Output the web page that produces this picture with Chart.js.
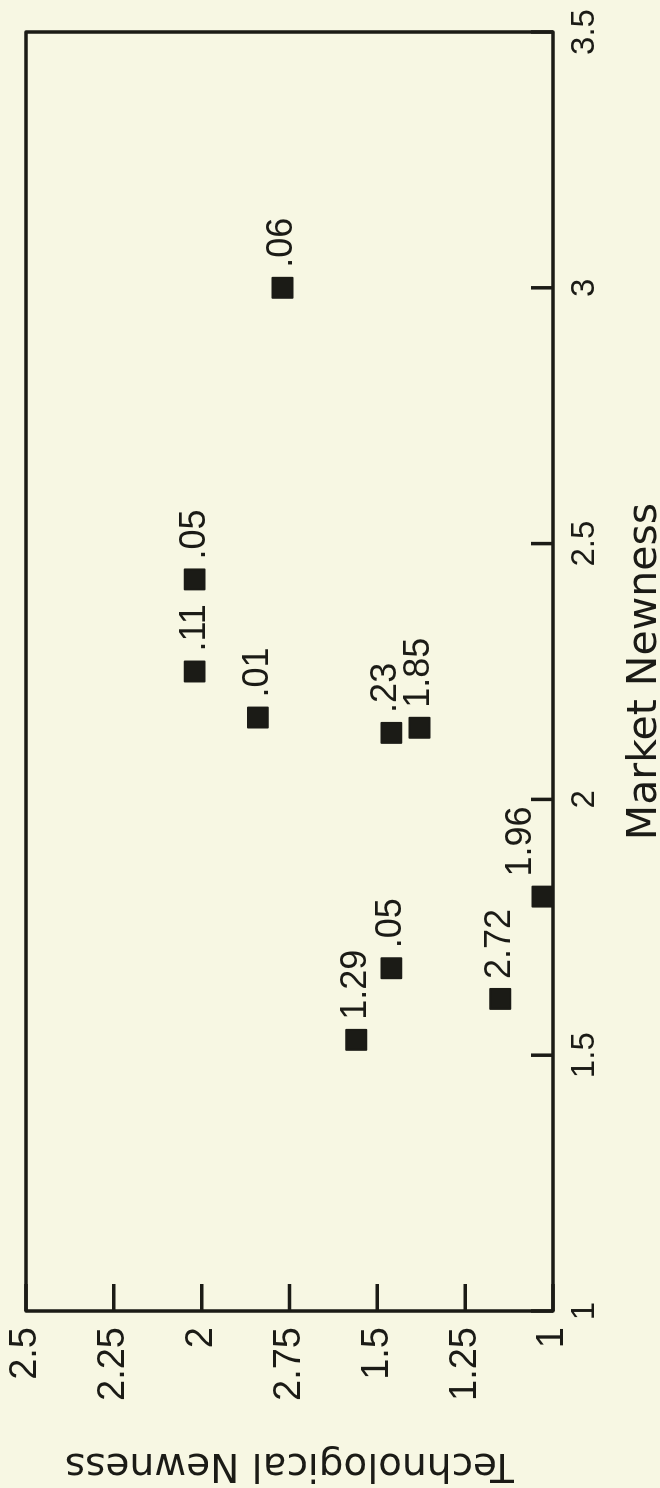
<!DOCTYPE html>
<html><head><meta charset="utf-8">
<script src="https://cdn.jsdelivr.net/npm/chart.js@4"></script>
<style>
html,body{margin:0;padding:0;background:#f7f7e3;overflow:hidden;width:660px;height:1488px;}
#wrap{position:absolute;left:0;top:0;width:1488px;height:660px;transform-origin:0 0;transform:translate(0,1488px) rotate(-90deg);}
</style></head><body>
<div id="wrap"><canvas id="c"></canvas></div>
<script>
// Data
const marketNewness = [3.0, 2.43, 2.25, 2.16, 2.13, 2.14, 1.53, 1.67, 1.61, 1.81];
const techNewness   = [1.77, 2.02, 2.02, 1.84, 1.46, 1.38, 1.56, 1.46, 1.15, 1.03];
const pointLabels   = ['.06', '.05', '.11', '.01', '.23', '1.85', '1.29', '.05', '2.72', '1.96'];
const marketTicks   = ['1', '1.5', '2', '2.5', '3', '3.5'];
const techTicks     = ['1', '1.25', '1.5', '2.75', '2', '2.25', '2.5'];

const INK = '#1b1b16';
const labelShift = [0, 0, 0, 0, -5, 0, 0, 0, 0, -21];

const framePlugin = {
  id: 'frame',
  beforeDatasetsDraw(chart) {
    const {ctx, chartArea: a, scales} = chart;
    ctx.save();
    ctx.strokeStyle = INK;
    ctx.lineWidth = 3.5;
    ctx.lineJoin = 'round';
    ctx.strokeRect(a.left, a.top, a.right - a.left, a.bottom - a.top);
    ctx.beginPath();
    scales.x.ticks.forEach(t => {
      const px = scales.x.getPixelForValue(t.value);
      ctx.moveTo(px, a.bottom); ctx.lineTo(px, a.bottom - 22);
    });
    scales.y.ticks.forEach(t => {
      const py = scales.y.getPixelForValue(t.value);
      ctx.moveTo(a.left, py); ctx.lineTo(a.left + 27, py);
    });
    ctx.stroke();
    ctx.restore();
    ctx.lineJoin = 'round';
  },
  afterDatasetsDraw(chart) {
    const {ctx} = chart;
    const meta = chart.getDatasetMeta(0);
    ctx.save();
    ctx.fillStyle = INK;
    ctx.font = '36px "Liberation Sans", Arial, sans-serif';
    ctx.textAlign = 'left';
    ctx.textBaseline = 'middle';
    meta.data.forEach((el, i) => {
      ctx.fillText(pointLabels[i], el.x + 20, el.y + labelShift[i]);
    });
    ctx.restore();
  }
};

new Chart(document.getElementById('c'), {
  type: 'scatter',
  data: {
    datasets: [{
      data: marketNewness.map((m, i) => ({x: m, y: techNewness[i]})),
      pointStyle: 'rect',
      pointRadius: 14.1,
      pointBackgroundColor: INK,
      pointBorderColor: INK,
      pointBorderWidth: 2,
      clip: false
    }]
  },
  options: {
    responsive: true,
    maintainAspectRatio: false,
    animation: false,
    devicePixelRatio: 1,
    layout: {padding: {left: 0, top: 26, right: 32, bottom: 0}},
    plugins: {legend: {display: false}, tooltip: {enabled: false}},
    scales: {
      x: {
        type: 'linear', min: 1, max: 3.5,
        afterFit(s) { s.height = 107; s.paddingLeft = 0; s.paddingRight = 0; },
        ticks: {stepSize: 0.5, color: INK, padding: 12,
          font: {family: '"Liberation Sans", Arial, sans-serif', size: 33},
          callback: (v, i) => marketTicks[i]},
        grid: {display: false, drawTicks: false},
        border: {display: false},
        title: {display: true, text: 'Market Newness', color: INK,
          font: {family: '"DejaVu Sans", sans-serif', size: 41, lineHeight: 0.7},
          padding: 0}
      },
      y: {
        type: 'linear', min: 1, max: 2.5,
        afterFit(s) { s.width = 177; s.paddingTop = 0; s.paddingBottom = 0; },
        ticks: {stepSize: 0.25, color: INK, padding: 16,
          font: {family: '"Liberation Sans", Arial, sans-serif', size: 38},
          callback: (v, i) => techTicks[i]},
        grid: {display: false, drawTicks: false},
        border: {display: false},
        title: {display: true, text: 'Technological Newness', color: INK,
          font: {family: '"DejaVu Sans", sans-serif', size: 39},
          padding: 0}
      }
    }
  },
  plugins: [framePlugin]
});
</script>
</body></html>
